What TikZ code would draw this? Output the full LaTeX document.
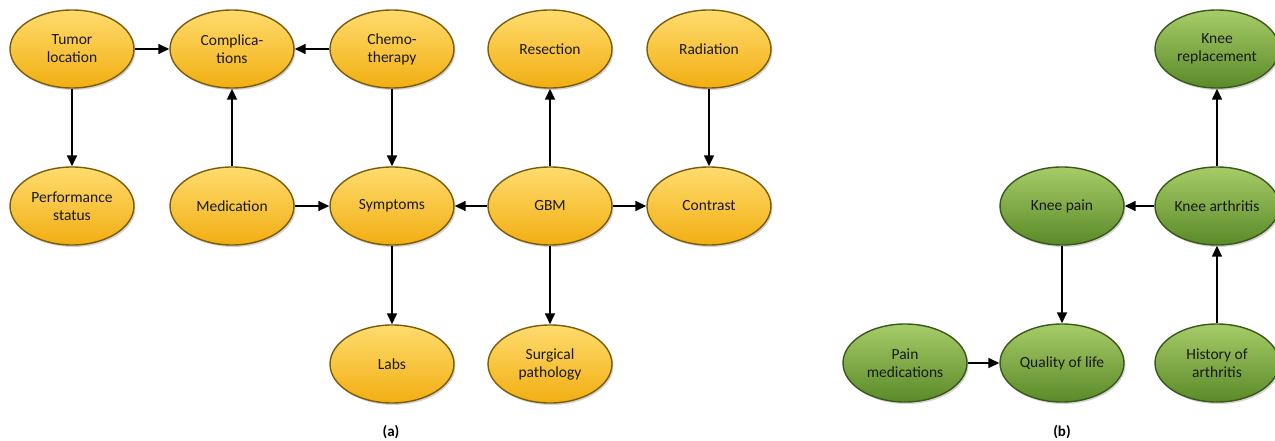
\documentclass[tikz,border=0pt]{standalone}
\usepackage{fontspec}
\setmainfont{Carlito}
\usetikzlibrary{arrows.meta,shadows,shapes.geometric}
\definecolor{ytop}{HTML}{FFDC6E}
\definecolor{ybot}{HTML}{F2AE12}
\definecolor{yedge}{HTML}{7A5C0C}
\definecolor{gtop}{HTML}{A6CC68}
\definecolor{gbot}{HTML}{5A8A28}
\definecolor{gedge}{HTML}{3A581B}
\tikzset{
  ynode/.style={ellipse node, top color=ytop, bottom color=ybot, draw=yedge},
  gnode/.style={ellipse node, top color=gtop, bottom color=gbot, draw=gedge},
  ellipse node/.style={ellipse, line width=1.4pt, minimum width=124pt, minimum height=78pt,
    inner sep=0pt, align=center, font=\fontsize{15.5}{18}\selectfont, text=black!90,
    drop shadow={shadow xshift=1.5pt, shadow yshift=-2pt, opacity=0.35}},
  conn/.style={-{Triangle[length=11pt,width=10pt]}, line width=1.5pt, black},
  captext/.style={font=\bfseries\fontsize{15}{17}\selectfont}
}
\begin{document}
\begin{tikzpicture}[x=1pt,y=-1pt]
\useasboundingbox (0,0) rectangle (1275,441);
\clip (0,0) rectangle (1275,441);
% panel a
\node[ynode] (tumor) at (72,49) {Tumor\\location};
\node[ynode] (compl) at (232,49) {Complica-\\tions};
\node[ynode] (chemo) at (392,49) {Chemo-\\therapy};
\node[ynode] (resec) at (550,49) {Resection};
\node[ynode] (radia) at (709,49) {Radiation};
\node[ynode] (perf) at (72,206) {Performance\\status};
\node[ynode] (medic) at (232,206) {Medication};
\node[ynode] (sympt) at (392,206) {Symptoms};
\node[ynode] (gbm) at (550,206) {GBM};
\node[ynode] (contr) at (709,206) {Contrast};
\node[ynode] (labs) at (392,364) {Labs};
\node[ynode] (surg) at (550,364) {Surgical\\pathology};
\draw[conn] (tumor) -- (compl);
\draw[conn] (chemo) -- (compl);
\draw[conn] (tumor) -- (perf);
\draw[conn] (medic) -- (compl);
\draw[conn] (chemo) -- (sympt);
\draw[conn] (medic) -- (sympt);
\draw[conn] (gbm) -- (sympt);
\draw[conn] (gbm) -- (resec);
\draw[conn] (gbm) -- (contr);
\draw[conn] (radia) -- (contr);
\draw[conn] (sympt) -- (labs);
\draw[conn] (gbm) -- (surg);
\node[captext] (capa) at (391,432) {(a)};
% panel b
\node[gnode] (krep) at (1217,49) {Knee\\replacement};
\node[gnode] (kpain) at (1062,206) {Knee pain};
\node[gnode] (karth) at (1217,206) {Knee arthritis};
\node[gnode] (pmed) at (905,363) {Pain\\medications};
\node[gnode] (qol) at (1062,363) {Quality of life};
\node[gnode] (hist) at (1217,363) {History of\\arthritis};
\draw[conn] (karth) -- (krep);
\draw[conn] (karth) -- (kpain);
\draw[conn] (kpain) -- (qol);
\draw[conn] (pmed) -- (qol);
\draw[conn] (hist) -- (karth);
\node[captext] (capb) at (1062,432) {(b)};
\end{tikzpicture}
\end{document}
